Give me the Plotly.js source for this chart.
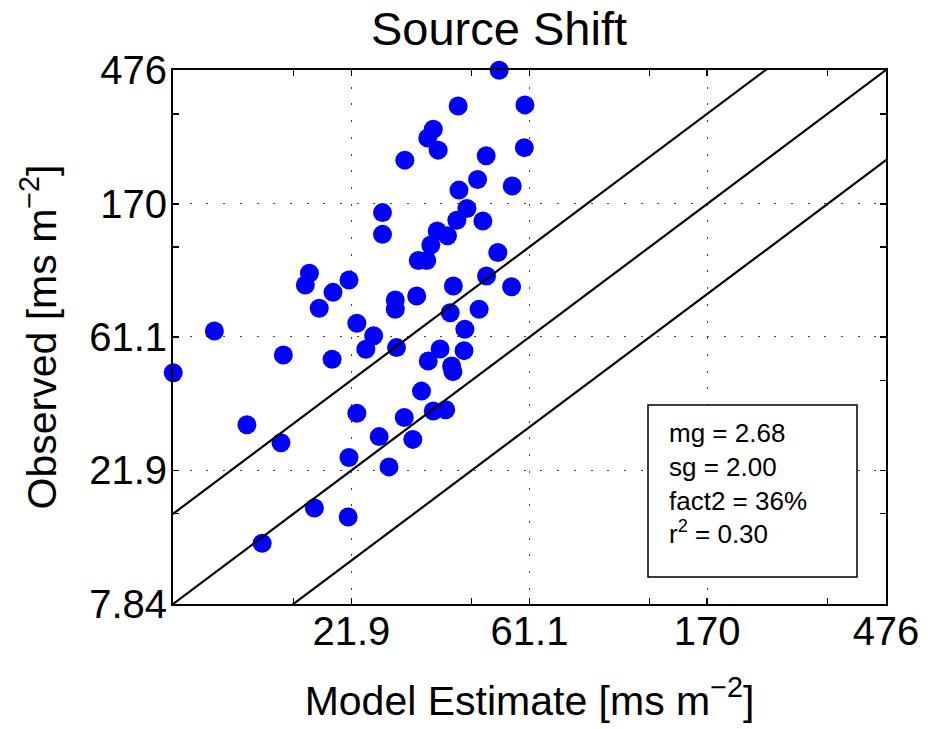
<!DOCTYPE html>
<html>
<head>
<meta charset="utf-8">
<script src="https://cdn.plot.ly/plotly-3.0.1.min.js"></script>
<style>
  html, body { margin: 0; padding: 0; background: #fff; }
  #chart { width: 928px; height: 729px; }
</style>
</head>
<body>
<div id="chart"></div>
<script>
// Model estimate (x) and observed (y) values, ms m^-2
const modelEstimate = [
  51.3, 40.5, 59.5, 35.1, 34.0, 36.1, 29.8, 47.6, 59.3, 45.3,
  40.7, 55.3, 42.6, 40.2, 46.7, 26.2, 26.2, 35.9, 38.1, 34.6,
  32.2, 33.8, 50.9, 17.2, 16.8, 21.6, 19.7, 18.2, 47.7, 39.4,
  55.1, 28.2, 28.2, 31.9, 38.7, 45.7, 22.6, 24.9, 42.1, 9.95,
  14.8, 19.6, 23.8, 28.4, 36.5, 41.9, 34.1, 39.0, 39.3, 7.85,
  32.8, 22.6, 29.7, 35.1, 37.7, 12.0, 14.6, 25.7, 31.2, 21.6,
  27.2, 17.7, 21.5, 13.1
];
const observed = [
  475, 361, 364, 302, 282, 257, 238, 246, 262, 205,
  189, 195, 164, 150, 149, 159, 134.5, 138, 133, 124,
  110, 110, 117, 99.7, 91.1, 94.7, 86.1, 76.2, 97.6, 90.4,
  89.9, 81.2, 75.6, 83.7, 73.6, 75.6, 67.9, 61.7, 64.8, 64.0,
  53.2, 51.5, 55.6, 56.3, 55.7, 55.0, 50.8, 48.9, 46.8, 46.4,
  40.3, 34.0, 32.9, 34.6, 34.9, 31.1, 27.1, 28.4, 27.8, 24.2,
  22.5, 16.4, 15.3, 12.5
];

// Reference lines: observed = factor * model (1:2, 1:1, 2:1)
const lineFactors = [0.5, 1, 2];
const lineXs = [3, 1000];

// Axis ticks
const majorTicks = [7.84, 21.9, 61.1, 170, 476];
const majorTickText = ['7.84', '21.9', '61.1', '170', '476'];
const xMajorTicks = [21.9, 61.1, 170, 476];
const xMajorTickText = ['21.9', '61.1', '170', '476'];
const minorTicks = [15.7, 43.8, 122, 340];
const axisMin = 7.84, axisMax = 476;

// Statistics box
const statsLines = ['mg = 2.68', 'sg = 2.00', 'fact2 = 36%', 'r<sup>2</sup> = 0.30'];

const FONT = 'Liberation Sans, Arial, Helvetica, sans-serif';

const traces = [{
  type: 'scatter', mode: 'markers',
  x: modelEstimate, y: observed,
  marker: { color: '#0000FF', size: 19, line: { width: 0 } },
  cliponaxis: false, hoverinfo: 'skip'
}];
lineFactors.forEach(f => {
  traces.push({
    type: 'scatter', mode: 'lines',
    x: lineXs, y: lineXs.map(v => v * f),
    line: { color: '#000', width: 2.2 },
    hoverinfo: 'skip'
  });
});

function axisCommon() {
  return {
    type: 'log',
    range: [Math.log10(axisMin), Math.log10(axisMax)],
    tickmode: 'array',
    ticks: 'inside', ticklen: 6, tickwidth: 1.5, tickcolor: '#000',
    showline: true, linewidth: 2, linecolor: '#000', mirror: 'ticks',
    showgrid: true, gridcolor: '#444', gridwidth: 1, griddash: '2px,14.7px',
    zeroline: false,
    tickfont: { family: FONT, size: 40, color: '#000' },
    minor: {
      tickmode: 'array', tickvals: minorTicks,
      ticks: 'inside', ticklen: 6, tickwidth: 1.5, tickcolor: '#000',
      showgrid: false
    },
    fixedrange: true
  };
}

const xaxis = Object.assign(axisCommon(), {
  tickvals: xMajorTicks, ticktext: xMajorTickText,
  ticklabelstandoff: -9,
  title: { text: 'Model Estimate [ms m<sup>\u22122</sup>]', font: { family: FONT, size: 41, color: '#000' }, standoff: 34 }
});
const yaxis = Object.assign(axisCommon(), {
  tickvals: majorTicks, ticktext: majorTickText,
  ticklabelstandoff: -4,
  title: { text: 'Observed [ms m<sup>\u22122</sup>]', font: { family: FONT, size: 41, color: '#000' }, standoff: 20 }
});

const L = 173, R = 886, T = 70, B = 604;
const px2x = p => (p - L) / (R - L);
const px2y = p => (B - p) / (B - T);

const layout = {
  width: 928, height: 729,
  margin: { l: L, r: 928 - R, t: T, b: 729 - B },
  paper_bgcolor: '#fff', plot_bgcolor: '#fff',
  showlegend: false, hovermode: false,
  title: {
    text: 'Source Shift',
    font: { family: FONT, size: 47, color: '#000' },
    x: 499 / 928, xref: 'container', xanchor: 'center',
    y: 1 - 29 / 729, yref: 'container', yanchor: 'middle'
  },
  xaxis: xaxis, yaxis: yaxis,
  shapes: [{
    type: 'rect', xref: 'paper', yref: 'paper',
    x0: px2x(648), x1: px2x(857), y0: px2y(577), y1: px2y(405),
    line: { color: '#000', width: 1.5 }, fillcolor: '#fff', layer: 'above'
  }],
  annotations: [{
    xref: 'paper', yref: 'paper',
    x: px2x(667), y: px2y(483), xanchor: 'left', yanchor: 'middle',
    align: 'left', showarrow: false,
    text: statsLines.join('<br>'),
    font: { family: FONT, size: 26, color: '#000' }
  }]
};

Plotly.newPlot('chart', traces, layout, { displayModeBar: false, staticPlot: true });
</script>
</body>
</html>
